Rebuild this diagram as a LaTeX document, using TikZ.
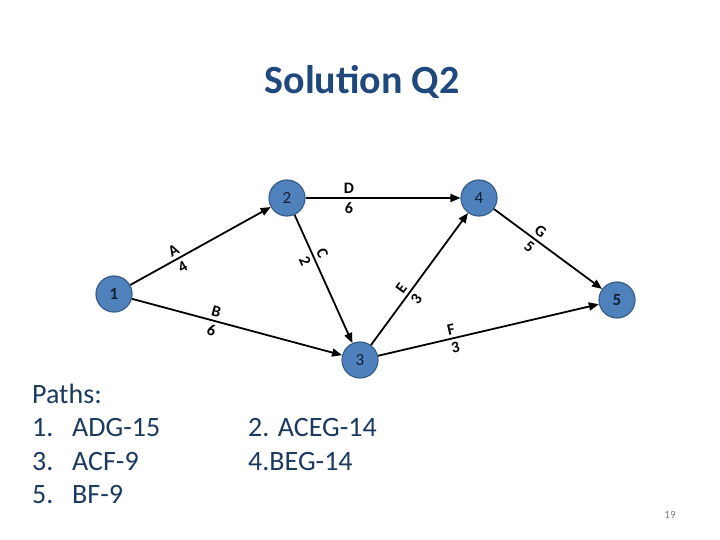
\documentclass[tikz,border=0pt]{standalone}
\usepackage{fontspec}
\setmainfont{Carlito}
\usetikzlibrary{arrows.meta}
\definecolor{titleblue}{RGB}{31,73,125}
\definecolor{pathblue}{RGB}{28,58,96}
\definecolor{nodefill}{RGB}{79,129,189}
\definecolor{nodeedge}{RGB}{56,93,138}
\definecolor{nodetext}{RGB}{20,30,50}
\begin{document}
\begin{tikzpicture}[x=1pt,y=-1pt,
  ev/.style={circle,draw=nodeedge,fill=nodefill,line width=1.2pt,minimum size=36pt,inner sep=0pt,font=\fontsize{17}{19}\selectfont,text=nodetext},
  act/.style={draw=black,line width=1.8pt,-{Triangle[length=10pt,width=8pt]}},
  lab/.style={font=\fontsize{16}{18}\selectfont\bfseries,sloped,inner sep=3.2pt},
  ptxt/.style={font=\fontsize{28}{32}\selectfont,text=pathblue,anchor=base west,inner sep=0pt}
]
\useasboundingbox (0,0) rectangle (720,540);
\node[font=\fontsize{40}{46}\selectfont\bfseries,text=titleblue] (title) at (362,82) {Solution Q2};
\node[ev] (n1) at (114,294) {\textbf{1}};
\node[ev] (n2) at (287,198) {2};
\node[ev] (n3) at (360,360) {3};
\node[ev] (n4) at (479,198) {4};
\node[ev] (n5) at (617,300) {\textbf{5}};
\draw[act] (n1) -- node[lab,above,pos=0.34]{A} node[lab,below,pos=0.34]{4} (n2);
\draw[act] (n1) -- node[lab,above,pos=0.39]{B} node[lab,below,pos=0.39]{6} (n3);
\draw[act] (n2) -- node[lab,above,pos=0.33]{C} node[lab,below,pos=0.33]{2} (n3);
\draw[act] (n2) -- node[lab,above,pos=0.28]{D} node[lab,below,pos=0.28]{6} (n4);
\draw[act] (n3) -- node[lab,above,pos=0.39]{E} node[lab,below,pos=0.39]{3} (n4);
\draw[act] (n3) -- node[lab,above,pos=0.34]{F} node[lab,below,pos=0.34]{3} (n5);
\draw[act] (n4) -- node[lab,above,pos=0.38]{G} node[lab,below,pos=0.38]{5} (n5);
\node[ptxt] (p0) at (32,403) {Paths:};
\node[ptxt] (p1a) at (32,436) {1.};
\node[ptxt] (p1b) at (72,436) {ADG-15};
\node[ptxt] (p3a) at (32,470) {3.};
\node[ptxt] (p3b) at (72,470) {ACF-9};
\node[ptxt] (p5a) at (32,503) {5.};
\node[ptxt] (p5b) at (72,503) {BF-9};
\node[ptxt] (p2) at (248,436) {2. ACEG-14};
\node[ptxt] (p4) at (248,470) {4.BEG-14};
\node[font=\fontsize{11}{13}\selectfont,text=gray,anchor=base] (pg) at (670,518) {19};
\end{tikzpicture}
\end{document}
